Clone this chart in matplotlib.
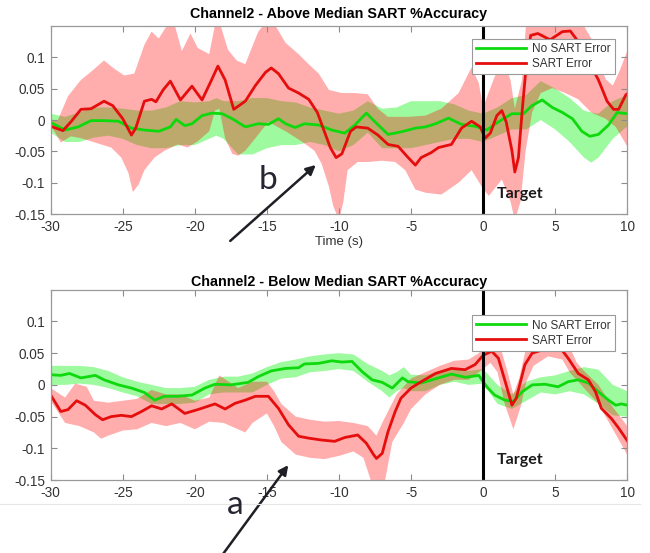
import numpy as np
import matplotlib
matplotlib.use("Agg")
from matplotlib import pyplot as plt

plt.rcParams['font.family'] = ['Liberation Sans', 'DejaVu Sans']
plt.rcParams['axes.unicode_minus'] = False

# ---- top panel: above median ----
top_red_x = [-30, -29.15, -28.6, -27.9, -27.2, -26.3, -25.7, -25.0, -24.4, -24.1, -23.5, -23.0, -22.7,
             -22.2, -21.7, -21.0, -20.2, -19.5, -18.9, -18.4, -17.9, -17.3, -16.5, -15.8, -15.1, -14.7,
             -14.2, -13.5, -12.8, -12.1, -11.5, -11.1, -10.6, -10.2, -9.8, -9.2, -8.8, -8.0, -7.3, -6.6,
             -5.9, -5.2, -4.7, -4.3, -3.6, -3.1, -2.2, -1.5, -0.8, -0.2, 0.14, 0.5, 0.95, 1.3, 1.6, 2.0,
             2.2, 2.45, 2.7, 3.0, 3.3, 3.8, 4.65, 5.5, 6.05, 6.6, 7.3, 8.0, 8.6, 9.05, 9.4, 9.9, 10]
top_red_y = [-0.010, -0.017, -0.003, 0.017, 0.018, 0.030, 0.023, 0.002, -0.024, -0.013, 0.030, 0.033, 0.029,
             0.048, 0.062, 0.032, 0.054, 0.032, 0.061, 0.086, 0.064, 0.017, 0.030, 0.055, 0.076, 0.083,
             0.074, 0.051, 0.043, 0.033, 0.012, -0.013, -0.044, -0.060, -0.054, -0.018, -0.011, -0.013, -0.024, -0.039,
             -0.042, -0.060, -0.072, -0.060, -0.052, -0.044, -0.039, -0.013, -0.002, -0.011, -0.029, -0.021, 0.007, 0.015, -0.003, -0.049,
             -0.083, -0.060, 0.012, 0.089, 0.135, 0.138, 0.128, 0.141, 0.142, 0.125, 0.094, 0.064, 0.030, 0.017, 0.017, 0.040, 0.042]

top_green_x = [-30, -29, -28.1, -27.2, -26.3, -25.3, -24.4, -23.5, -22.5, -21.7, -21.3, -20.7, -20.2, -19.5,
               -18.8, -18.1, -17.4, -16.5, -15.6, -14.9, -14.2, -13.7, -13.05, -12.4, -11.4, -10.5, -9.6,
               -8.9, -8.1, -7.5, -6.6, -5.7, -4.7, -4.0, -3.3, -2.4, -1.5, -0.56, 0.25, 1.06, 2.0, 2.8,
               3.4, 4.1, 4.8, 5.5, 6.2, 6.85, 7.4, 8.0, 8.7, 9.3, 10]
top_green_y = [-0.004, -0.016, -0.011, -0.001, -0.001, -0.002, -0.013, -0.016, -0.018, -0.011, 0.001, -0.009, -0.006, 0.007,
               0.011, 0.010, 0.002, -0.011, -0.006, -0.007, 0.002, -0.006, -0.012, -0.006, -0.008, -0.016, -0.021,
               -0.008, 0.011, -0.003, -0.023, -0.019, -0.013, -0.011, -0.006, 0.003, -0.007, -0.010, -0.016, -0.003, 0.010, 0.010,
               0.023, 0.032, 0.020, 0.012, 0.002, -0.018, -0.026, -0.023, -0.008, 0.012, 0.010]

top_gband_x = [-30, -29, -28, -27, -26, -25, -24, -23, -22, -21, -20, -19, -18.5, -18, -17, -16, -15, -14, -13,
               -12, -11, -10, -9, -8, -7, -6, -5, -4, -3, -2, -1, 0, 1, 2, 3, 4, 5, 6, 7, 7.5, 8, 9, 10]
top_gband_hi = [0.010, 0.005, 0.012, 0.020, 0.020, 0.018, 0.015, 0.015, 0.020, 0.030, 0.028, 0.030, 0.035, 0.030, 0.030,
                0.035, 0.035, 0.030, 0.028, 0.020, 0.015, 0.010, 0.015, 0.030, 0.018, 0.020, 0.030, 0.030, 0.030, 0.025,
                0.015, 0.010, 0.020, 0.035, 0.040, 0.062, 0.050, 0.035, 0.015, 0.012, 0.010, 0.030, 0.040]
top_gband_lo = [-0.020, -0.035, -0.035, -0.028, -0.025, -0.030, -0.040, -0.045, -0.045, -0.040, -0.040, -0.030, -0.025,
                -0.030, -0.055, -0.055, -0.045, -0.040, -0.040, -0.035, -0.040, -0.050, -0.040, -0.020, -0.045, -0.045,
                -0.045, -0.040, -0.035, -0.030, -0.030, -0.035, -0.025, -0.015, -0.015, 0.000, -0.015, -0.035, -0.060,
                -0.068, -0.060, -0.030, -0.010]

top_rband_hi_x = [-30, -29.5, -28.8, -27.9, -27.2, -26.3, -25.6, -24.9, -24.2, -23.5, -23.0, -22.5, -21.9, -21.4,
                  -20.9, -20.3, -19.8, -19.0, -18.6, -18.2, -17.7, -17.1, -16.5, -15.6, -15.1, -14.4, -13.7, -12.8,
                  -12.1, -11.4, -10.7, -9.8, -8.9, -8.0, -7.3, -6.6, -5.2, -4.0, -2.9, -1.7, -0.8, -0.3, 0.0, 0.4,
                  0.8, 1.4, 1.9, 2.2, 2.7, 3.0, 3.5, 4.5, 5.5, 6.5, 7.0, 7.5, 8.0, 8.5, 9.0, 9.5, 10]
top_rband_hi = [0.000, 0.000, 0.038, 0.064, 0.077, 0.095, 0.082, 0.071, 0.074, 0.120, 0.141, 0.130, 0.152, 0.152,
                0.110, 0.138, 0.115, 0.105, 0.152, 0.150, 0.112, 0.095, 0.089, 0.141, 0.155, 0.150, 0.123, 0.105,
                0.089, 0.074, 0.048, 0.043, 0.043, 0.041, 0.018, 0.005, 0.005, 0.007, 0.018, 0.043, 0.084, 0.059, 0.020, 0.045,
                0.069, 0.094, 0.064, 0.018, 0.064, 0.160, 0.170, 0.160, 0.170, 0.160, 0.150, 0.130, 0.100, 0.065, 0.055, 0.080, 0.110]
top_rband_lo_x = [-30, -29.3, -28.6, -27.9, -27.2, -26.5, -25.8, -25.1, -24.6, -24.3, -23.9, -23.5, -22.8, -22.1,
                  -21.2, -20.5, -19.8, -19.0, -18.6, -18.3, -17.9, -17.4, -17.0, -16.5, -15.8, -14.9, -13.7, -12.6,
                  -11.7, -11.2, -10.7, -10.4, -10.0, -9.7, -9.4, -8.7, -8.0, -7.0, -6.1, -5.4, -4.7, -4.0, -2.9,
                  -1.7, -0.8, 0.0, 0.4, 1.3, 1.9, 2.2, 2.6, 2.95, 3.4, 4.0, 4.8, 5.7, 6.6, 7.5, 8.5, 9.2, 10]
top_rband_lo = [-0.008, -0.036, -0.026, -0.029, -0.034, -0.039, -0.044, -0.060, -0.085, -0.115, -0.103, -0.080, -0.060, -0.049,
                -0.039, -0.044, -0.034, -0.018, 0.015, 0.018, -0.029, -0.054, -0.057, -0.049, -0.029, -0.003, -0.018, -0.034,
                -0.049, -0.070, -0.106, -0.137, -0.160, -0.131, -0.080, -0.067, -0.067, -0.065, -0.067, -0.080, -0.111, -0.116, -0.119,
                -0.100, -0.080, -0.110, -0.121, -0.095, -0.130, -0.160, -0.130, -0.049, 0.012, 0.043, 0.051, 0.043, 0.033, 0.012, 0.002, -0.011, -0.042]

# ---- bottom panel: below median ----
bot_red_x = [-30, -29.3, -28.8, -28.2, -27.6, -26.9, -26.4, -25.8, -25.1, -24.4, -23.7, -23.0, -22.3, -21.6,
             -20.7, -19.8, -18.6, -17.9, -17.2, -16.5, -15.8, -14.9, -14.2, -13.5, -12.8, -12.1, -11.2, -10.3,
             -9.6, -8.7, -8.1, -7.6, -7.4, -7.0, -6.6, -6.1, -5.7, -5.0, -4.3, -3.3, -2.2, -1.25, -0.56, 0.02,
             0.6, 1.06, 1.6, 2.0, 2.3, 2.9, 3.4, 4.1, 4.8, 5.2, 5.9, 6.6, 7.3, 7.8, 8.2, 8.9, 9.4, 10]
bot_red_y = [-0.016, -0.042, -0.039, -0.025, -0.032, -0.047, -0.055, -0.050, -0.048, -0.050, -0.042, -0.033, -0.038, -0.030,
             -0.045, -0.039, -0.030, -0.038, -0.029, -0.024, -0.018, -0.018, -0.037, -0.063, -0.081, -0.084, -0.087, -0.089,
             -0.083, -0.079, -0.092, -0.110, -0.116, -0.108, -0.074, -0.042, -0.021, -0.005, 0.005, 0.018, 0.026, 0.024, 0.032, 0.047,
             0.053, 0.042, 0.000, -0.032, -0.021, 0.032, 0.050, 0.055, 0.068, 0.063, 0.042, 0.018, 0.008, -0.011, -0.037, -0.053, -0.068, -0.088]

bot_green_x = [-30, -29.3, -28.7, -27.9, -26.9, -26.3, -25.3, -24.4, -23.5, -22.8, -22.1, -21.2, -20.2, -19.3,
               -18.6, -17.5, -16.3, -15.6, -14.7, -13.7, -12.8, -12.4, -11.4, -10.5, -9.8, -9.1, -8.4, -7.7,
               -7.0, -6.3, -5.6, -5.2, -4.3, -3.1, -2.2, -1.25, -0.3, 0.25, 0.8, 1.5, 2.1, 2.7, 3.4, 4.3,
               5.2, 5.9, 6.6, 7.3, 8.0, 8.7, 9.2, 9.6, 10]
bot_green_y = [0.016, 0.015, 0.018, 0.011, 0.015, 0.008, 0.000, -0.005, -0.012, -0.024, -0.018, -0.018, -0.016, -0.005,
               0.001, 0.000, 0.004, 0.013, 0.022, 0.026, 0.027, 0.033, 0.034, 0.038, 0.036, 0.037, 0.021, 0.008,
               0.004, -0.005, 0.011, 0.005, 0.003, 0.011, 0.017, 0.012, 0.015, -0.003, -0.016, -0.024, -0.026, -0.011, 0.000, 0.001,
               -0.003, 0.005, 0.008, 0.003, -0.011, -0.024, -0.032, -0.030, -0.032]

bot_gband_x = [-30, -29, -28, -27, -26, -25, -24, -23, -22, -21, -20, -19, -18, -17, -16, -15, -14, -13, -12, -11,
               -10, -9, -8, -7, -6.5, -6, -5.5, -5, -4, -3, -2, -1, 0, 1, 2, 3, 4, 5, 6, 7, 8, 9, 10]
bot_gband_hi = [0.030, 0.030, 0.030, 0.028, 0.022, 0.012, 0.005, 0.000, -0.005, -0.005, -0.003, 0.008, 0.013, 0.013,
                0.018, 0.028, 0.036, 0.040, 0.045, 0.048, 0.050, 0.048, 0.033, 0.022, 0.015, 0.020, 0.028, 0.016, 0.015,
                0.022, 0.027, 0.022, 0.025, 0.000, -0.015, 0.005, 0.012, 0.015, 0.022, 0.028, 0.024, 0.000, -0.010]
bot_gband_lo = [0.000, 0.000, 0.002, 0.000, -0.005, -0.012, -0.018, -0.030, -0.030, -0.030, -0.028, -0.015, -0.012, -0.012,
                -0.012, 0.000, 0.010, 0.012, 0.020, 0.022, 0.025, 0.022, 0.005, -0.010, -0.020, -0.010, -0.005, -0.010, -0.010,
                0.000, 0.005, 0.000, 0.002, -0.030, -0.038, -0.025, -0.012, -0.015, -0.010, -0.015, -0.030, -0.048, -0.050]

bot_rband_hi_x = [-30, -29, -28.3, -27.5, -27, -26, -25, -24, -23, -22, -21, -20, -19, -18.3, -17, -16, -15, -14.5,
                  -14, -13, -12, -11, -10, -9, -8, -7.4, -7, -6, -5, -4, -3, -2, -1, -0.3, 0.2, 0.7, 1.2, 1.7,
                  2.1, 2.5, 3, 3.5, 4.5, 5.5, 6, 6.5, 7, 8, 9, 10]
bot_rband_hi = [-0.005, -0.020, 0.002, -0.003, -0.025, -0.028, -0.025, -0.022, -0.008, -0.015, -0.015, -0.025, -0.020,
                0.015, -0.005, 0.005, 0.005, -0.010, -0.030, -0.050, -0.055, -0.058, -0.057, -0.060, -0.065, -0.080, -0.060,
                -0.015, 0.010, 0.020, 0.030, 0.038, 0.040, 0.050, 0.065, 0.070, 0.060, 0.020, -0.015, 0.010, 0.060, 0.075,
                0.090, 0.085, 0.060, 0.035, 0.022, 0.000, -0.035, -0.065]
bot_rband_lo_x = [-30, -29, -28, -27, -26.5, -26, -25, -24, -23, -22, -21, -20, -19, -18, -17, -16.5, -16, -15,
                  -14.5, -14, -13, -12, -11, -10, -9, -8.3, -7.8, -7.3, -6.8, -6.3, -5.5, -5, -4, -3, -2, -1, 0,
                  0.5, 1, 1.5, 2.1, 2.6, 3, 3.5, 4.5, 5.5, 6, 7, 8, 9, 10]
bot_rband_lo = [-0.025, -0.060, -0.065, -0.075, -0.085, -0.080, -0.072, -0.070, -0.060, -0.065, -0.060, -0.070, -0.058,
                -0.060, -0.070, -0.075, -0.060, -0.045, -0.065, -0.090, -0.110, -0.115, -0.117, -0.112, -0.105, -0.115,
                -0.150, -0.160, -0.150, -0.090, -0.060, -0.038, -0.015, 0.000, 0.008, 0.008, 0.025, 0.035, 0.020, -0.030,
                -0.070, -0.035, 0.005, 0.030, 0.045, 0.040, 0.020, -0.005, -0.030, -0.070, -0.110]

x_ticks = [-30, -25, -20, -15, -10, -5, 0, 5, 10]
y_ticks = [-0.15, -0.1, -0.05, 0, 0.05, 0.1]
y_tick_labels = ['-0.15', '-0.1', '-0.05', '0', '0.05', '0.1']

GREEN = (0.05, 0.85, 0.05)
RED = (0.9, 0.05, 0.05)


def band(ax, xh, hi, xl, lo, color, alpha):
    px = list(xh) + list(xl)[::-1]
    py = list(hi) + list(lo)[::-1]
    ax.fill(px, py, color=color, alpha=alpha, lw=0)


def panel(ax, title, red, green, gband, rband, legend_anchor, title_pad):
    band(ax, gband[0], gband[1], gband[0], gband[2], (0.0, 0.95, 0.0), 0.38)
    band(ax, rband[0], rband[1], rband[2], rband[3], (1.0, 0.0, 0.0), 0.32)
    ax.plot(green[0], green[1], color=GREEN, lw=2, label='No SART Error')
    ax.plot(red[0], red[1], color=RED, lw=2, label='SART Error')
    ax.axvline(0, color='k', lw=2.2)
    ax.set_xlim(-30, 10)
    ax.set_ylim(-0.15, 0.15)
    ax.set_xticks(x_ticks)
    ax.set_yticks(y_ticks)
    ax.set_yticklabels(y_tick_labels)
    ax.tick_params(direction='in', top=True, right=True, length=4, width=0.8,
                   colors=(0.55, 0.55, 0.55), labelcolor=(0.2, 0.2, 0.2), labelsize=9.8, pad=4)
    for s in ax.spines.values():
        s.set_color((0.6, 0.6, 0.6))
        s.set_linewidth(0.9)
    ax.set_title(title, fontsize=10.3, fontweight='bold', pad=title_pad)
    ax.text(0.95, -0.118, 'Target', fontsize=11.5, fontweight='bold', family=['Lato', 'DejaVu Sans'],
            va='center', ha='left', color=(0.1, 0.1, 0.1))
    leg = ax.legend(loc='upper right', bbox_to_anchor=legend_anchor, borderaxespad=0, fontsize=8.5,
                    handlelength=4.2, handletextpad=0.5, labelspacing=0.25, borderpad=0.35,
                    fancybox=False, framealpha=1)
    leg.get_frame().set_edgecolor((0.6, 0.6, 0.6))
    leg.get_frame().set_linewidth(0.8)
    for t in leg.get_texts():
        t.set_color((0.2, 0.2, 0.2))


fig = plt.figure(figsize=(6.5, 5.53), dpi=100)
ax1 = fig.add_axes([0.078, 0.613, 0.887, 0.340])
ax2 = fig.add_axes([0.078, 0.132, 0.887, 0.344])

panel(ax1, 'Channel2 - Above Median SART %Accuracy',
      (top_red_x, top_red_y), (top_green_x, top_green_y),
      (top_gband_x, top_gband_hi, top_gband_lo),
      (top_rband_hi_x, top_rband_hi, top_rband_lo_x, top_rband_lo), (0.978, 0.93), 6)
ax1.set_xlabel('Time (s)', fontsize=9.5, color=(0.2, 0.2, 0.2), labelpad=2)

panel(ax2, 'Channel2 - Below Median SART %Accuracy',
      (bot_red_x, bot_red_y), (bot_green_x, bot_green_y),
      (bot_gband_x, bot_gband_hi, bot_gband_lo),
      (bot_rband_hi_x, bot_rband_hi, bot_rband_lo_x, bot_rband_lo), (0.978, 0.865), 3)

# faint separator line under the lower panel
fig.add_artist(plt.Line2D([0.0, 0.985], [1 - 504 / 553, 1 - 504 / 553], color=(0.9, 0.9, 0.9), lw=0.8))

# annotation arrows
fig.add_artist(matplotlib.patches.FancyArrowPatch((0.351, 0.561), (0.489, 0.705), transform=fig.transFigure,
                                                  arrowstyle='-|>', mutation_scale=14, lw=1.8, color=(0.12, 0.12, 0.15)))
fig.text(0.412, 0.674, 'b', fontsize=24, family=['Lato', 'DejaVu Sans'], ha='center', va='center', color=(0.15, 0.15, 0.2))
fig.add_artist(matplotlib.patches.FancyArrowPatch((0.338, -0.01), (0.446, 0.163), transform=fig.transFigure,
                                                  arrowstyle='-|>', mutation_scale=14, lw=1.8, color=(0.12, 0.12, 0.15)))
fig.text(0.362, 0.087, 'a', fontsize=24, family=['Lato', 'DejaVu Sans'], ha='center', va='center', color=(0.15, 0.15, 0.2))

fig.savefig('out.png', dpi=100)
